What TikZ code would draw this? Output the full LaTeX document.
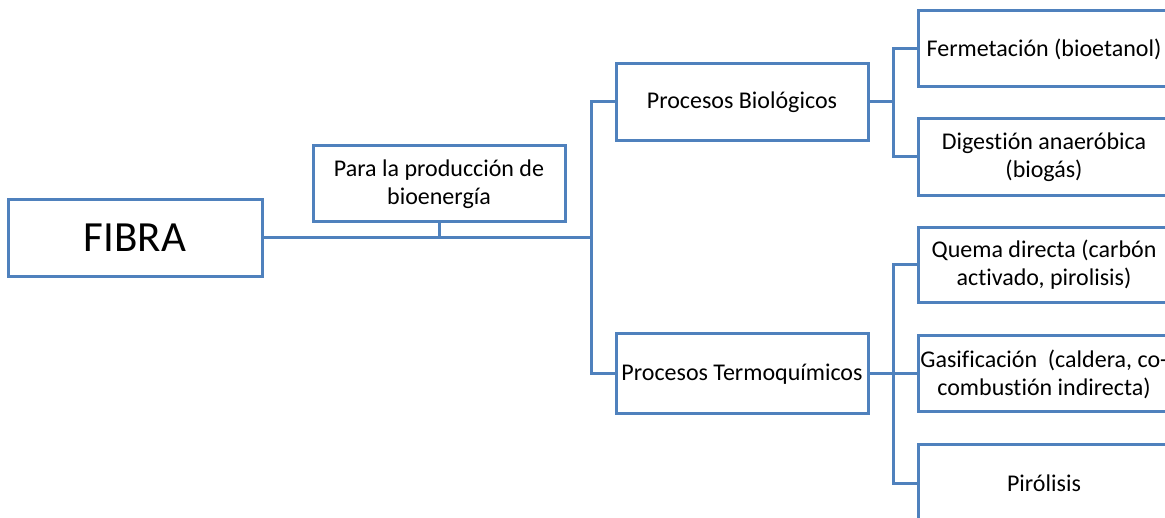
\documentclass[tikz,border=0pt]{standalone}
\usepackage{fontspec}
\setmainfont[Ligatures=NoCommon]{Carlito}
\definecolor{boxblue}{RGB}{79,129,189}
\tikzset{
  box/.style={draw=boxblue, line width=3pt, fill=white, rectangle, minimum width=252pt, minimum height=76pt, inner sep=0pt, align=center, font=\fontsize{24}{28}\selectfont, text=black},
  conn/.style={draw=boxblue, line width=3pt}
}
\begin{document}
\begin{tikzpicture}[x=1pt,y=-1pt]
\useasboundingbox (0,0) rectangle (1165,518);
% connectors junctions
\coordinate (j1) at (591,238);
\coordinate (j2) at (893,102);
\coordinate (j3) at (893,374);
% nodes
\node[box, minimum width=254pt, minimum height=77pt, font=\fontsize{43}{50}\selectfont] (fibra) at (135,238) {FIBRA};
\node[box] (para) at (439,184) {Para la producción de\\bioenergía};
\node[box, minimum height=77pt] (bio) at (742,102) {\raisebox{-2pt}{Procesos Biológicos}};
\node[box, minimum height=80pt] (termo) at (742,374) {Procesos Termoquímicos};
\node[box] (ferm) at (1044,49) {Fermetación (bioetanol)};
\node[box, minimum height=77pt] (dig) at (1044,157) {Digestión anaeróbica\\(biogás)};
\node[box, minimum height=75pt] (quema) at (1044,265) {Quema directa (carbón\\activado, pirolisis)};
\node[box] (gas) at (1044,374) {Gasificación\ \ (caldera, co-\\combustión indirecta)};
\node[box] (piro) at (1044,483) {Pirólisis};
% connectors
\draw[conn] (fibra.east) -- (j1);
\draw[conn] (para.south) -- (para.south |- j1);
\draw[conn] (bio.west) -| (j1) |- (termo.west);
\draw[conn] (bio.east) -- (j2);
\draw[conn] (ferm.west) -| (j2) |- (dig.west);
\draw[conn] (termo.east) -- (j3);
\draw[conn] (quema.west) -| (j3) |- (piro.west);
\draw[conn] (j3) -- (gas.west);
\end{tikzpicture}
\end{document}
